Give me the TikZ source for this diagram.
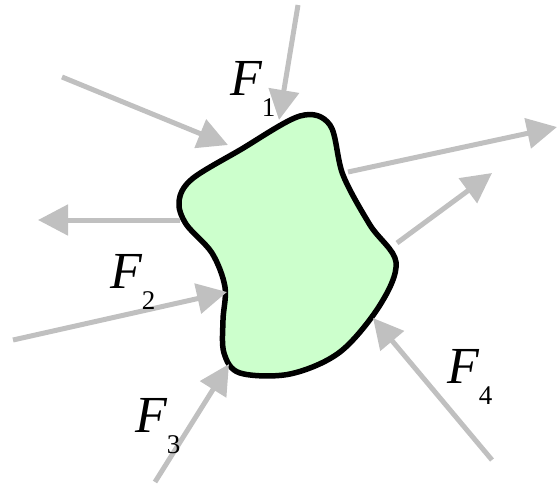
\documentclass[tikz,border=0pt]{standalone}
\usepackage{fontspec}
\setmainfont{Liberation Serif}
\usetikzlibrary{arrows.meta}
\definecolor{blobfill}{RGB}{204,255,204}
\definecolor{forcegray}{RGB}{192,192,192}
\tikzset{
  force/.style={draw=forcegray, line width=5pt, -{Triangle[length=30pt,width=30pt]}},
  flabel/.style={anchor=base west, inner sep=0pt, font=\fontsize{52}{52}\selectfont\itshape}
}
\newcommand{\fsub}[1]{\raisebox{-21pt}{\fontsize{27}{27}\selectfont\upshape #1}}
\begin{document}
\begin{tikzpicture}[x=1pt,y=-1pt]
\useasboundingbox (0,0) rectangle (557,485);
% blob
\draw[line width=5.5pt, fill=blobfill, line join=round]
  plot[smooth cycle, tension=0.55] coordinates {
  (192,179) (240,150) (300,116) (330,125) (343,175) (370,225) (396,262) (380,305)
  (340,352) (290,374) (240,373) (224,353) (223,320) (225,287) (212,253) (186,224) (179,201)};
% coordinates
\coordinate (a1s) at (298,5);   \coordinate (a1e) at (279,120);
\coordinate (a2s) at (62,77);   \coordinate (a2e) at (228,145);
\coordinate (a3s) at (180,220); \coordinate (a3e) at (38,220);
\coordinate (a4s) at (13,340);  \coordinate (a4e) at (227,292);
\coordinate (a5s) at (155,482); \coordinate (a5e) at (229,364);
\coordinate (a6s) at (348,172); \coordinate (a6e) at (557,127);
\coordinate (a7s) at (397,243); \coordinate (a7e) at (492,173);
\coordinate (a8s) at (492,460); \coordinate (a8e) at (373,318);
\foreach \i in {1,...,8} \draw[force] (a\i s) -- (a\i e);
% labels
\node[flabel] (F1) at (230,95) {F\fsub{1}};
\node[flabel] (F2) at (110,288) {F\fsub{2}};
\node[flabel] (F3) at (135,432) {F\fsub{3}};
\node[flabel] (F4) at (447,383) {F\fsub{4}};
\end{tikzpicture}
\end{document}
